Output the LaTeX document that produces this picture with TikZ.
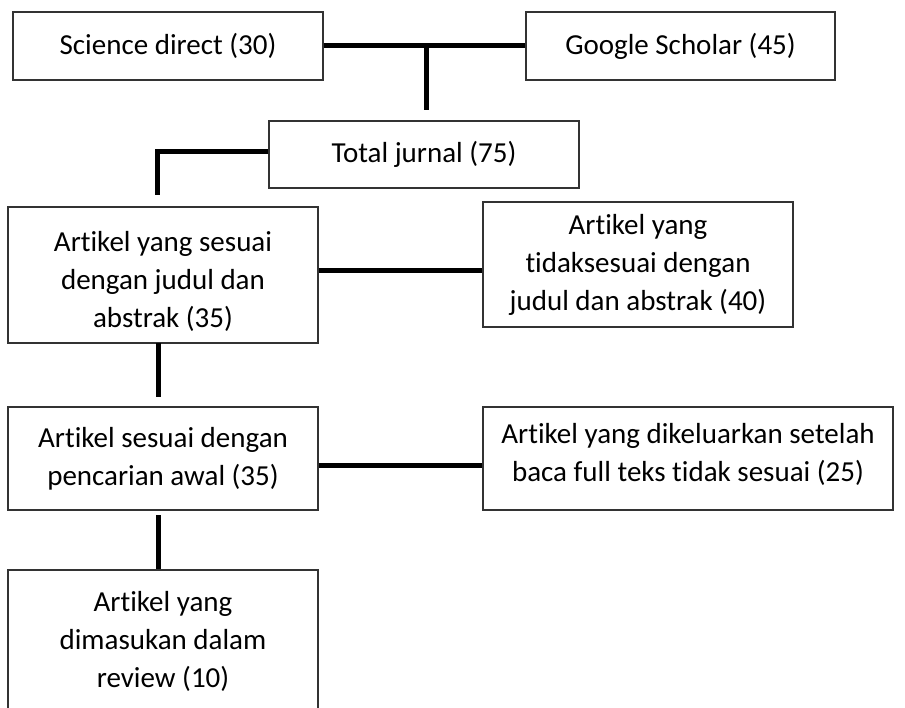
\documentclass[tikz,border=0pt]{standalone}
\usepackage{fontspec}
\setmainfont{Carlito}[Ligatures=NoCommon]
\begin{document}
\begin{tikzpicture}[x=1pt,y=-1pt,
  box/.style={draw=black!80, line width=1.2pt, inner sep=0pt, align=center,
    font=\fontsize{29pt}{38pt}\selectfont},
  conn/.style={line width=5pt, black, line join=miter}]
\useasboundingbox (0,0) rectangle (905,707);
% boxes
\node[box, minimum width=310pt, minimum height=68pt] (b1) at (168,46) {Science direct (30)};
\node[box, minimum width=309pt, minimum height=68pt] (b2) at (680.5,46) {Google Scholar (45)};
\node[box, minimum width=310pt, minimum height=67pt] (b3) at (424,154.5) {Total jurnal (75)};
\node[box, minimum width=310pt, minimum height=136pt] (b4) at (163,275) {\rule{0pt}{34pt}Artikel yang sesuai\\dengan judul dan\\abstrak (35)};
\node[box, minimum width=310pt, minimum height=125pt] (b5) at (638,264.5) {Artikel yang\\tidaksesuai dengan\\judul dan abstrak (40)};
\node[box, minimum width=310pt, minimum height=103pt] (b6) at (163,458.5) {Artikel sesuai dengan\\pencarian awal (35)};
\node[box, minimum width=410pt, minimum height=103pt] (b7) at (688,458.5) {Artikel yang dikeluarkan setelah\\baca full teks tidak sesuai (25)\rule[-13pt]{0pt}{0pt}};
\node[box, minimum width=310pt, minimum height=142pt] (b8) at (163,641) {Artikel yang\\dimasukan dalam\\review (10)};
% junction coordinates
\coordinate (j1) at (426,45);
\coordinate (j1e) at (426,110);
\coordinate (j2) at (157,151);
\coordinate (j2e) at (157,195);
\coordinate (j3) at (0,270);
\coordinate (j4) at (158,343);
\coordinate (j4e) at (158,397);
\coordinate (j5) at (0,465);
\coordinate (j6) at (158,515);
% connectors
\draw[conn] (b1.east |- j1) -- (b2.west |- j1);
\draw[conn] (j1) -- (j1e);
\draw[conn] (b3.west |- j2) -- (j2) -- (j2e);
\draw[conn] (b4.east |- j3) -- (b5.west |- j3);
\draw[conn] (j4) -- (j4e);
\draw[conn] (b6.east |- j5) -- (b7.west |- j5);
\draw[conn] (j6) -- (j6 |- b8.north);
\end{tikzpicture}
\end{document}
